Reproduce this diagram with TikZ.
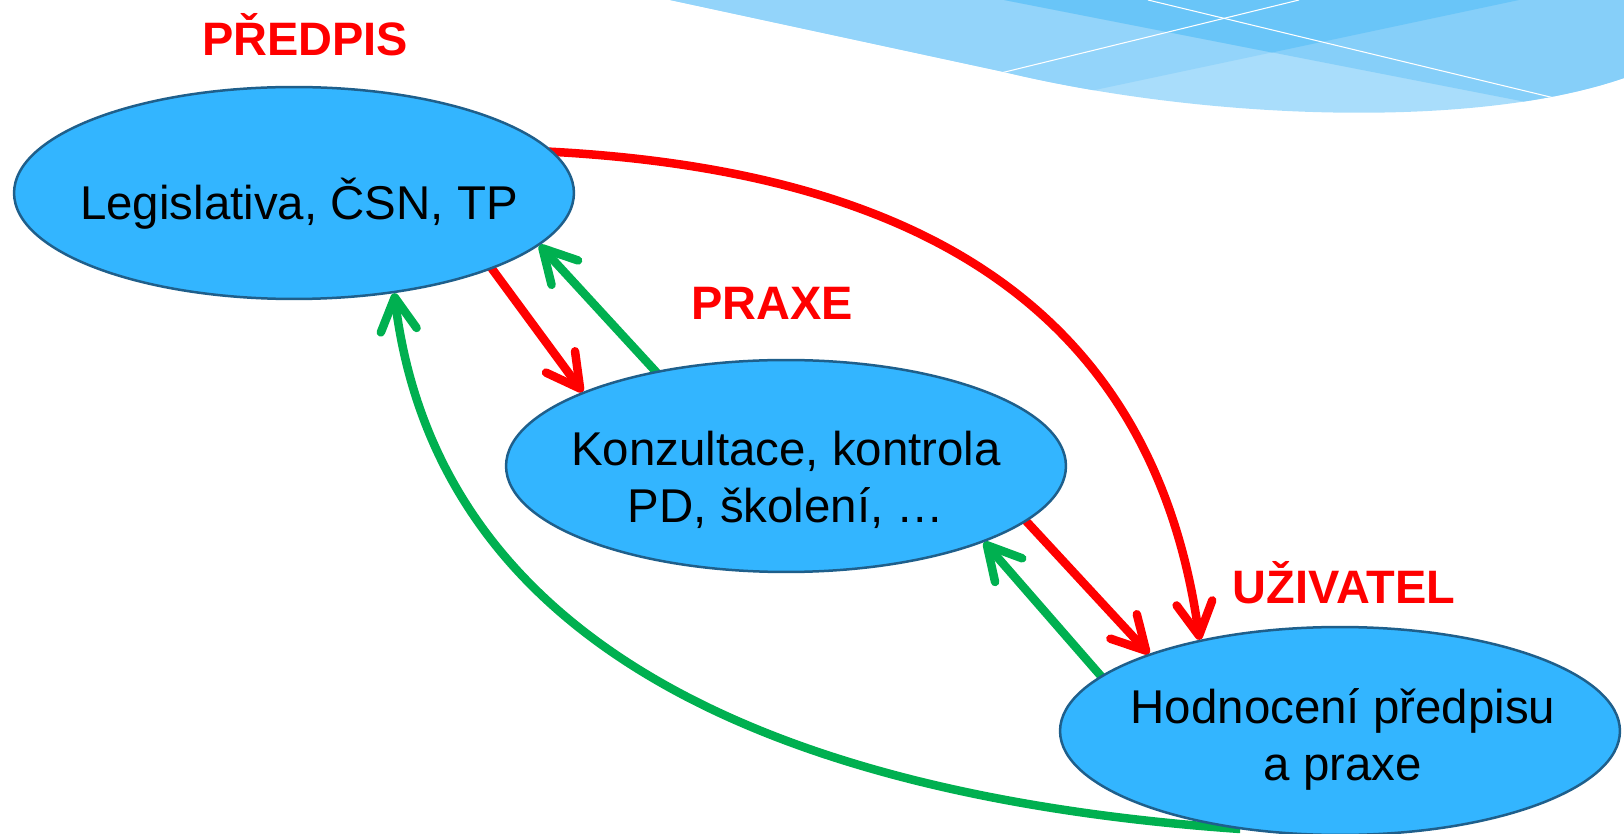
\documentclass[tikz,border=0pt]{standalone}
\usepackage{fontspec}
\setmainfont{Liberation Sans}
\usepackage{xcolor}
\usetikzlibrary{shapes.geometric}
\usetikzlibrary{arrows.meta}
\usetikzlibrary{backgrounds}
\definecolor{ovalfill}{HTML}{33B5FF}
\definecolor{ovaledge}{HTML}{1F5F8B}
\definecolor{stepred}{HTML}{FF0000}
\definecolor{stepgreen}{HTML}{00B050}
\definecolor{wavebase}{HTML}{A9DDFB}
\definecolor{waveleft}{HTML}{93D4FA}
\definecolor{waveright}{HTML}{86CFF9}
\definecolor{wavemid}{HTML}{69C5F8}

\begin{document}
\begin{tikzpicture}[
      x=0.02cm, y=0.02cm,
      oval/.style={ellipse, draw=ovaledge, line width=0.05cm, fill=ovalfill,
                   minimum width=11.2cm, minimum height=4.24cm, inner sep=0pt},
      ovaltext/.style={align=center, font=\fontsize{27}{32.4}\selectfont},
      rolelabel/.style={anchor=base, text=stepred, font=\fontsize{26.7}{32.4}\selectfont\bfseries},
      link/.style={line width=0.17cm, shorten <=-0.1cm,
                   -{Straight Barb[length=0.66cm, width=0.72cm, round]}},
      forward/.style={link, draw=stepred},
      feedback/.style={link, draw=stepgreen}
      ]
\useasboundingbox (0,0) rectangle (1624,-834);

% ovals
\node[oval] (legis) at (294,-193) {};
\node[oval] (konz) at (786,-466) {};
\node[oval, minimum height=4.16cm] (hodn) at (1340,-731) {};
\node[ovaltext, anchor=base] (legis-txt) at (299,-220) {Legislativa, ČSN, TP};
\node[ovaltext] (konz-txt) at (786,-480) {Konzultace, kontrola\\PD, školení, …};
\node[ovaltext] (hodn-txt) at (1343,-739) {Hodnocení předpisu\\a praxe};

% labels
\node[rolelabel] (predpis) at (305,-56) {PŘEDPIS};
\node[rolelabel] (praxe) at (772,-320) {PRAXE};
\node[rolelabel] (uzivatel) at (1344,-603) {UŽIVATEL};

\begin{pgfonlayer}{background}
% wave in the corner
\begin{scope}
  \clip (670,0) -- (1004,-72) .. controls (1204,-120) and (1474,-130) .. (1624,-78) -- (1624,0) -- cycle;
  \fill[wavebase] (600,0) rectangle (1624,-130);
  \fill[waveleft] (600,0) -- (1519,0) -- (600,-195) -- cycle;
  \fill[waveright] (1004,0) -- (1700,-136) -- (1700,0) -- cycle;
  \fill[wavemid] (1004,0) -- (1272,-52.5) -- (1519,0) -- cycle;
  \draw[white, line width=0.6pt] (1148,0) -- (1600,-109);
  \draw[white, line width=0.6pt] (960,-83) -- (1299,0);
\end{scope}

% arrows
\draw[forward] (legis.-21) -- (konz.160);
\draw[feedback] (konz.144) -- (legis.-12.5);
\draw[forward] (konz.-13.6) -- (hodn.158.7);
\draw[feedback] (hodn.167) -- (konz.-21);
\draw[forward] (legis.9) to[out=-3, in=98, looseness=1.1] (hodn.147);
\draw[feedback] (hodn.223) to[out=176, in=-83] (legis.-45.6);
\end{pgfonlayer}
\end{tikzpicture}
\end{document}
